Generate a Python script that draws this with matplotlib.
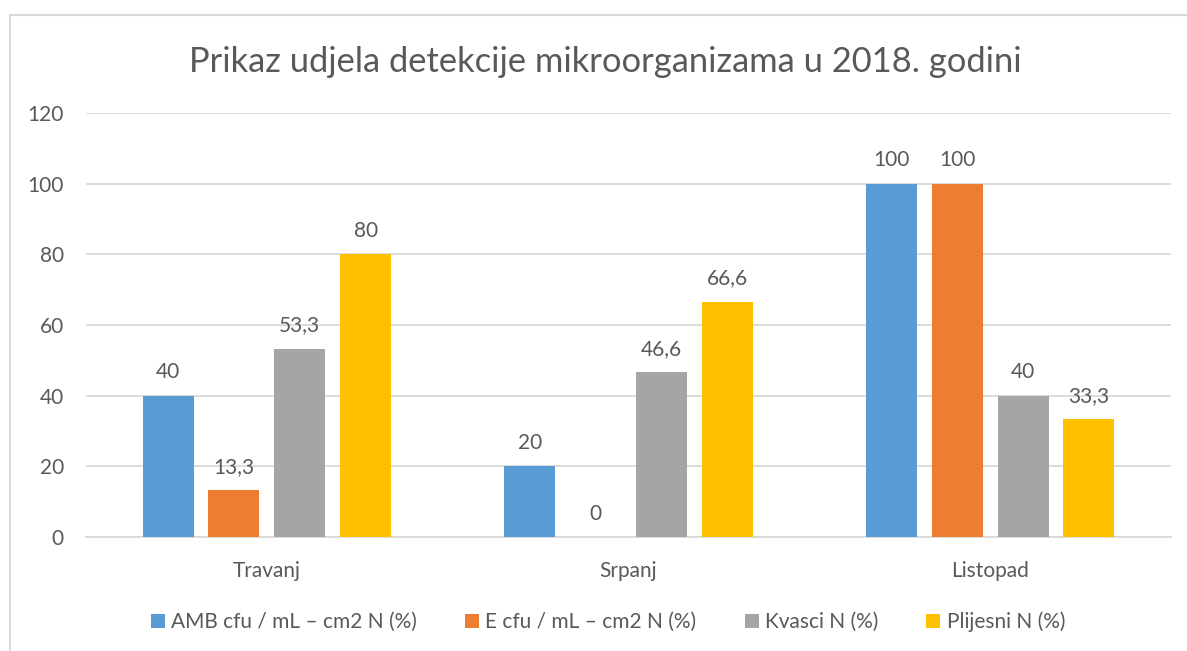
import matplotlib
matplotlib.use("Agg")
import matplotlib.pyplot as plt
from matplotlib.lines import Line2D
from matplotlib.patches import Patch
import numpy as np

categories = ["Travanj", "Srpanj", "Listopad"]
series_names = ["AMB cfu / mL – cm2 N (%)", "E cfu / mL – cm2 N (%)", "Kvasci N (%)", "Plijesni N (%)"]
amb = [40, 20, 100]
e_cfu = [13.3, 0, 100]
kvasci = [53.3, 46.6, 40]
plijesni = [80, 66.6, 33.3]
colors = ["#5B9BD5", "#ED7D31", "#A5A5A5", "#FFC000"]
title = "Prikaz udjela detekcije mikroorganizama u 2018. godini"

plt.rcParams['font.family'] = ['Lato', 'DejaVu Sans']
txt = "#595959"

fig = plt.figure(figsize=(11.87, 6.51), dpi=100)
ax = fig.add_axes([86/1187, 1-537/651, (1171-86)/1187, (537-113)/651])

x = np.arange(len(categories))
step = 0.182
width = 0.141
all_series = [amb, e_cfu, kvasci, plijesni]
for i, (vals, col) in enumerate(zip(all_series, colors)):
    pos = x + (i - 1.5) * step
    ax.bar(pos, vals, width=width, color=col, zorder=3)
    for p, v in zip(pos, vals):
        lab = ("%g" % v).replace(".", ",")
        ax.annotate(lab, (p, v), xytext=(0, 9.5), textcoords="offset points",
                    ha="center", va="bottom", fontsize=15, color=txt)

ax.set_xlim(-0.5, 2.5)
ax.set_ylim(0, 120)
ax.set_yticks(range(0, 121, 20))
ax.yaxis.grid(True, color="#D9D9D9", linewidth=1.3, zorder=0)
ax.set_xticks(x)
ax.set_xticklabels(categories)
ax.tick_params(axis="both", length=0, labelsize=15, labelcolor=txt)
ax.tick_params(axis="y", pad=16)
ax.tick_params(axis="x", pad=17)
for s in ["top", "right", "left"]:
    ax.spines[s].set_visible(False)
ax.spines["bottom"].set_color("#D9D9D9")
ax.spines["bottom"].set_linewidth(1.3)

fig.text(605/1187, 1-62/651, title, ha="center", va="center", fontsize=24.8, color=txt)

handles = [Patch(facecolor=c, edgecolor="none") for c in colors]
fig.legend(handles, series_names, loc="center", bbox_to_anchor=(608/1187, 1-622/651),
           ncol=4, frameon=False, fontsize=15, labelcolor=txt,
           handlelength=0.68, handleheight=0.68, handletextpad=0.3, columnspacing=2.3)

fig.add_artist(Line2D([10/1187, 10/1187], [0, 1-15/651], transform=fig.transFigure, color="#D9D9D9", linewidth=1.5))
fig.add_artist(Line2D([10/1187, 1], [1-15/651, 1-15/651], transform=fig.transFigure, color="#D9D9D9", linewidth=1.5))

fig.savefig("out.png", dpi=100)
